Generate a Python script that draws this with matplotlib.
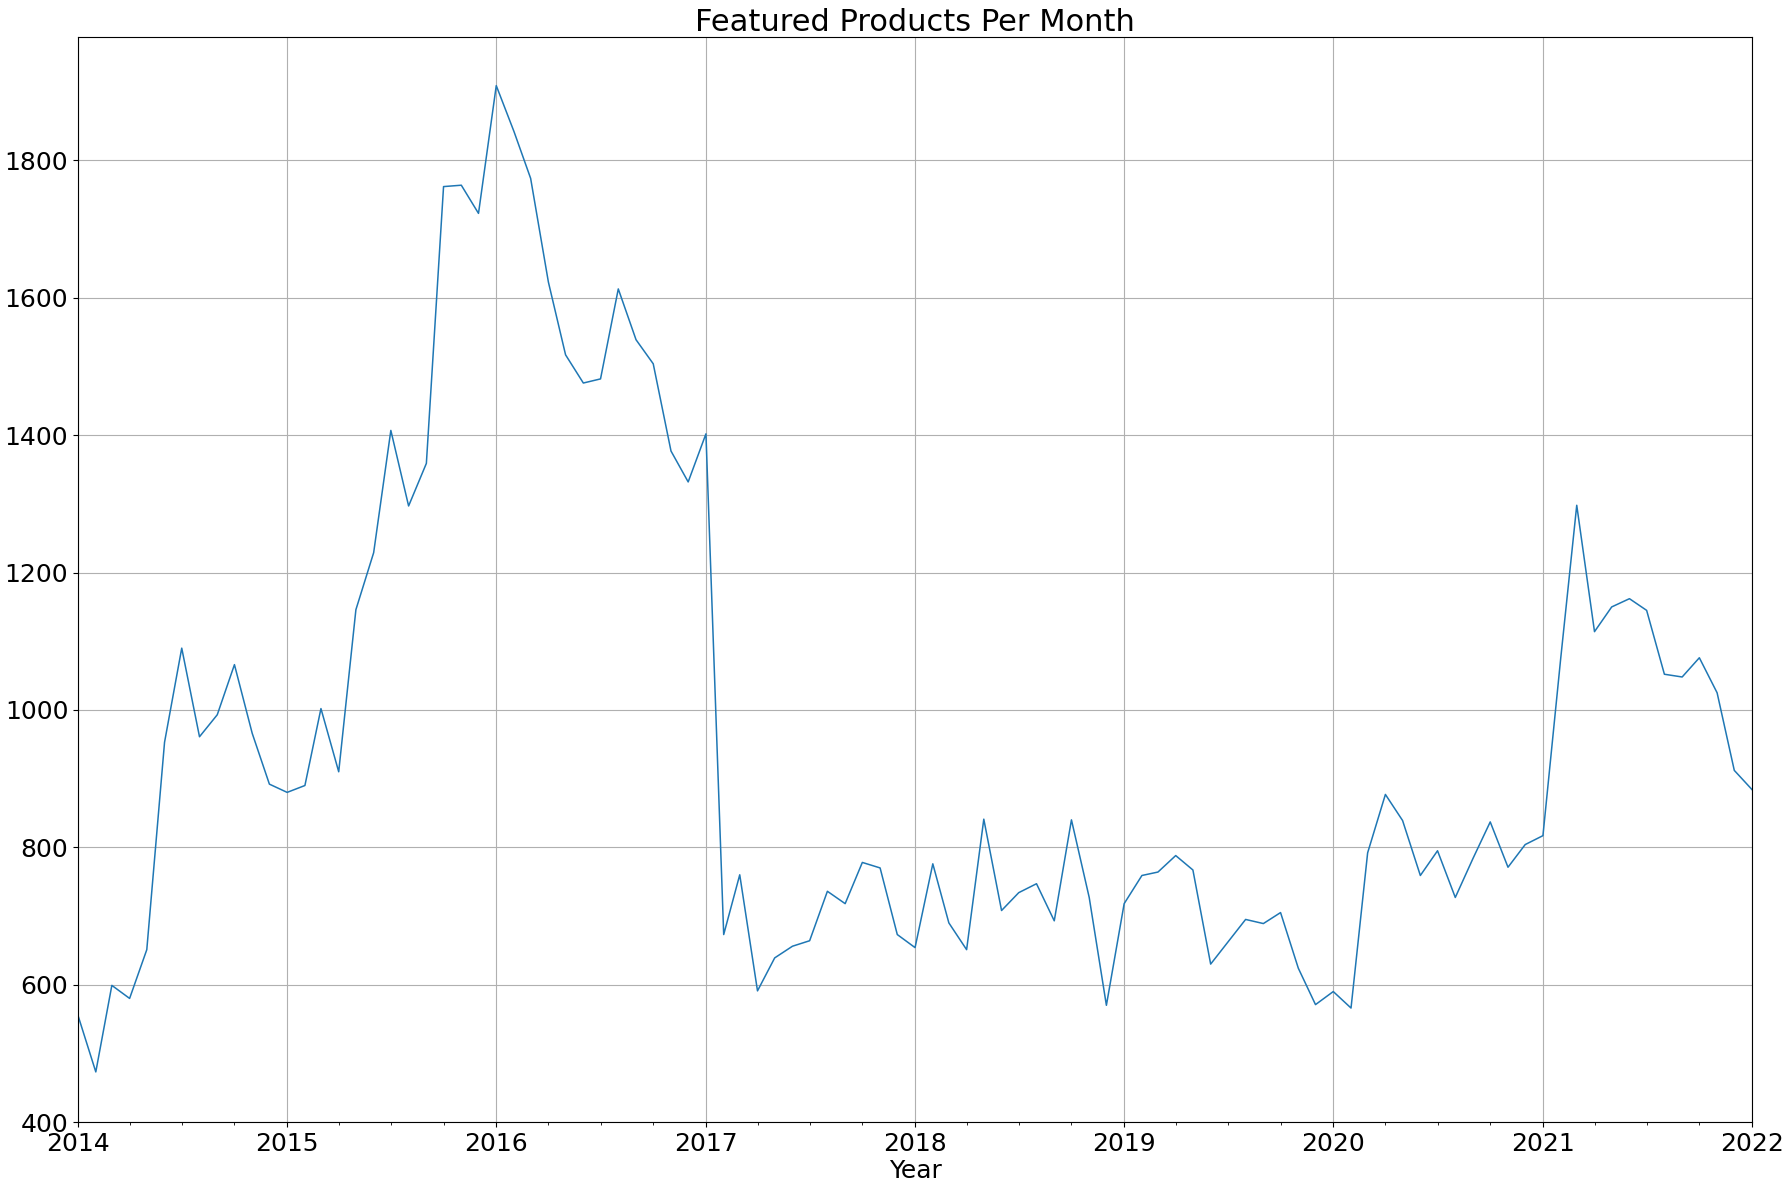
import matplotlib
matplotlib.use("Agg")
import matplotlib.pyplot as plt
import matplotlib.dates as mdates
import pandas as pd

start_month = "2014-01-01"
values = [
    # 2014
    555, 473, 599, 580, 651, 953, 1090, 961, 993, 1066, 966, 892,
    # 2015
    880, 890, 1002, 910, 1146, 1229, 1407, 1297, 1359, 1762, 1764, 1723,
    # 2016
    1909, 1842, 1774, 1623, 1517, 1476, 1482, 1613, 1539, 1504, 1377, 1332,
    # 2017
    1402, 673, 760, 591, 639, 656, 664, 736, 718, 778, 770, 673,
    # 2018
    654, 776, 690, 651, 841, 708, 734, 747, 693, 840, 727, 570,
    # 2019
    718, 759, 764, 788, 767, 630, 662, 695, 689, 705, 624, 571,
    # 2020
    590, 566, 792, 877, 839, 759, 795, 727, 784, 837, 771, 804,
    # 2021
    817, 1075, 1298, 1114, 1150, 1162, 1145, 1052, 1048, 1076, 1025, 912,
    # 2022
    884,
]
dates = pd.date_range(start_month, periods=len(values), freq="MS")

title = "Featured Products Per Month"
xlabel = "Year"

fig = plt.figure(figsize=(17.9, 11.89), dpi=100)
ax = fig.add_axes([0.0436, 0.0563, 0.9352, 0.9127])
ax.plot(dates, values, color="#1f77b4", linewidth=1.1)

ax.set_xlim(dates[0], dates[-1])
ax.set_ylim(400, 1980)
ax.set_yticks(range(400, 1801, 200))
ax.xaxis.set_major_locator(mdates.YearLocator())
ax.xaxis.set_major_formatter(mdates.DateFormatter("%Y"))
ax.xaxis.set_minor_locator(mdates.MonthLocator(bymonth=[4, 7, 10]))
ax.grid(True, which="major", color="#b0b0b0", linewidth=0.8)
ax.tick_params(axis="both", which="major", labelsize=18)
ax.set_title(title, fontsize=22, pad=4)
ax.set_xlabel(xlabel, fontsize=18, labelpad=2)

fig.savefig("out.png", dpi=100)
